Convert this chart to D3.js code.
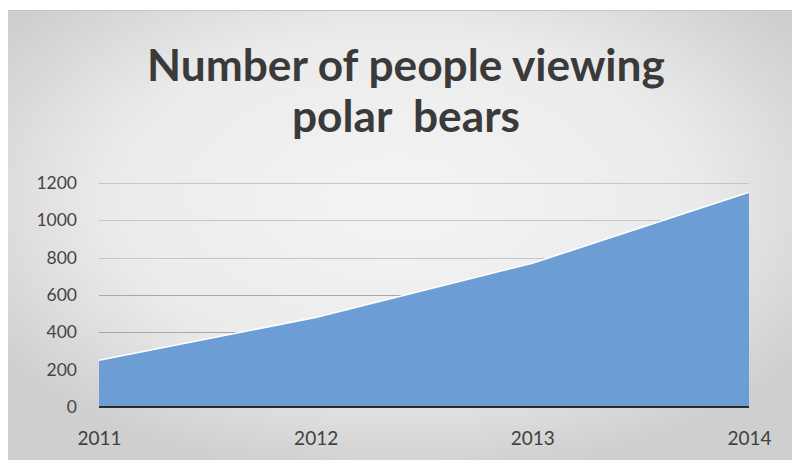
<!DOCTYPE html>
<html>
<head>
<meta charset="utf-8">
<script src="https://cdn.jsdelivr.net/npm/d3@7"></script>
<style>
  html, body { margin: 0; padding: 0; background: #ffffff; }
  svg { display: block; }
</style>
</head>
<body>
<svg id="chart" width="792" height="464"></svg>
<script>
const titleLines = ["Number of people viewing", "polar  bears"];
const years = ["2011", "2012", "2013", "2014"];
const viewers = [250, 480, 770, 1150];
const yTicks = [0, 200, 400, 600, 800, 1000, 1200];

const svg = d3.select("#chart");
const W = 792, H = 464;
const margin = { left: 99, right: 43, top: 183, bottom: 57 };

const defs = svg.append("defs");
const bg = defs.append("radialGradient").attr("id", "bg")
  .attr("cx", "50%").attr("cy", "42%").attr("r", "62%");
bg.append("stop").attr("offset", "0%").attr("stop-color", "#f4f4f4");
bg.append("stop").attr("offset", "60%").attr("stop-color", "#ebebeb");
bg.append("stop").attr("offset", "100%").attr("stop-color", "#cfcfcf");

svg.append("rect").attr("x", 8).attr("y", 10).attr("width", W - 8).attr("height", 450)
  .attr("fill", "url(#bg)");
svg.append("line").attr("x1", 8).attr("x2", W).attr("y1", 10.5).attr("y2", 10.5)
  .attr("stroke", "#c4c4c4").attr("stroke-width", 1);

const x = d3.scalePoint().domain(years).range([margin.left, W - margin.right]);
const y = d3.scaleLinear().domain([0, 1200]).range([H - margin.bottom, margin.top]);

// gridlines
svg.append("g").selectAll("line").data(yTicks.filter(d => d > 0)).join("line")
  .attr("x1", margin.left).attr("x2", W - margin.right)
  .attr("y1", d => Math.round(y(d)) + 0.5).attr("y2", d => Math.round(y(d)) + 0.5)
  .attr("stroke", d => d <= 600 ? "#a8a8a8" : "#c6c6c6").attr("stroke-width", 1.2);

const data = years.map((yr, i) => ({ yr, v: viewers[i] }));

const area = d3.area().x(d => x(d.yr)).y0(y(0)).y1(d => y(d.v));
svg.append("path").datum(data).attr("d", area).attr("fill", "#6c9ed5");

const line = d3.line().x(d => x(d.yr)).y(d => y(d.v));
svg.append("path").datum(data).attr("d", line).attr("fill", "none")
  .attr("stroke", "#ffffff").attr("stroke-width", 1.5);

// baseline
svg.append("line").attr("x1", margin.left).attr("x2", W - margin.right)
  .attr("y1", y(0)).attr("y2", y(0)).attr("stroke", "#2b2b2b").attr("stroke-width", 2.2);

const font = "Lato, 'Open Sans', sans-serif";

// y axis labels
const yAxis = d3.axisLeft(y).tickValues(yTicks).tickFormat(d3.format("d")).tickSize(0).tickPadding(22);
const gy = svg.append("g").attr("transform", `translate(${margin.left},0)`).call(yAxis);
gy.select(".domain").remove();
gy.selectAll("text").attr("font-family", font).attr("font-size", 17.5)
  .attr("fill", "#454545");

// x axis labels
const xAxis = d3.axisBottom(x).tickSize(0).tickPadding(25);
const gx = svg.append("g").attr("transform", `translate(0,${y(0)})`).call(xAxis);
gx.select(".domain").remove();
gx.selectAll("text").attr("font-family", font).attr("font-size", 19)
  .attr("fill", "#404040");

// title
const title = svg.append("g");
const t1 = title.append("text").attr("x", 406).attr("y", 81).attr("text-anchor", "middle")
  .attr("font-family", font).attr("font-weight", "bold").attr("font-size", 40)
  .attr("fill", "#3a3a3a").text(titleLines[0]);
const w1 = t1.node().getComputedTextLength();
const fs = 40 * 518 / w1;
t1.attr("font-size", fs);
title.append("text").attr("x", 406).attr("y", 132).attr("text-anchor", "middle")
  .attr("font-family", font).attr("font-weight", "bold").attr("font-size", fs)
  .attr("fill", "#3a3a3a").attr("xml:space", "preserve").style("white-space", "pre")
  .text(titleLines[1]);
</script>
</body>
</html>
